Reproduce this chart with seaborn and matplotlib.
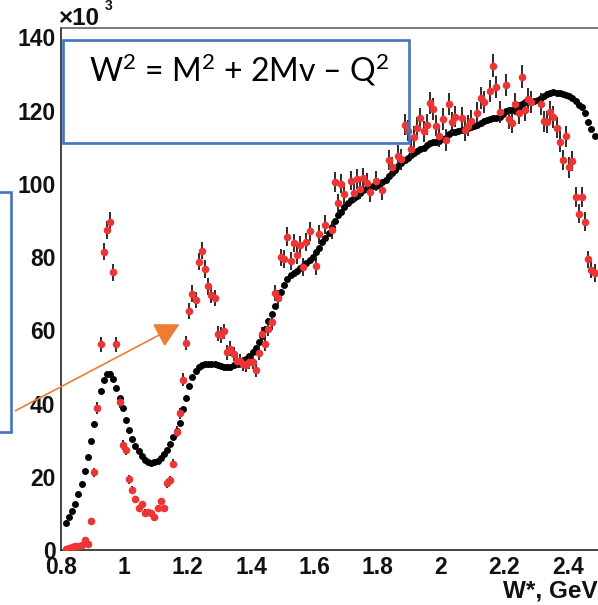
import numpy as np
import matplotlib
matplotlib.use("Agg")
import matplotlib.pyplot as plt
from matplotlib.patches import Rectangle, FancyArrowPatch
from matplotlib.ticker import MultipleLocator
import seaborn as sns

# ---- simulated yield (black), 10 MeV bins starting at W* = 0.81 GeV ----
sim_w_start = 0.81
sim_bin_width = 0.01
sim_yield = [
    7.4, 9.1, 10.6, 12.5, 15.2, 18.0, 21.6, 25.4, 29.8, 34.5,
    38.9, 43.4, 46.5, 48.2, 48.2, 46.7, 44.2, 41.4, 38.7, 35.5,
    32.7, 30.4, 28.4, 27.0, 25.6, 24.7, 24.1, 23.9, 24.0, 24.3,
    25.0, 26.1, 27.3, 28.9, 30.8, 32.6, 34.8, 38.5, 41.5, 44.8,
    47.3, 49.0, 49.9, 50.4, 50.7, 50.9, 50.9, 50.8, 50.5, 50.2,
    50.0, 49.9, 50.1, 50.5, 50.9, 51.2, 51.7, 52.3, 53.1, 54.0,
    55.2, 56.8, 58.4, 60.3, 62.5, 64.5, 66.6, 68.9, 70.6, 72.4,
    73.9, 75.0, 75.6, 76.3, 77.0, 77.6, 78.3, 79.2, 80.0, 81.3,
    82.5, 84.0, 85.3, 86.7, 88.3, 89.8, 91.5, 92.4, 93.6, 94.7,
    95.5, 96.2, 96.8, 97.6, 98.4, 98.9, 99.2, 99.3, 99.5, 99.8,
    100.4, 101.2, 102.1, 103.0, 103.9, 104.8, 105.6, 106.4, 107.1, 107.8,
    108.4, 108.9, 109.4, 109.8, 110.7, 111.2, 111.4, 111.4, 111.7, 112.2,
    112.6, 113.5, 114.2, 114.3, 114.5, 114.7, 115.1, 115.4, 115.6, 115.9,
    116.2, 116.6, 117.1, 117.5, 117.8, 117.9, 118.1, 118.4, 119.0, 119.8,
    120.3, 120.3, 120.2, 120.8, 121.8, 122.3, 122.4, 122.5, 122.6, 122.8,
    123.4, 124.0, 124.5, 124.8, 125.0, 124.9, 124.7, 124.6, 124.4, 124.1,
    123.4, 122.7, 121.6, 120.9, 119.5, 117.0, 115.0, 113.0,
]

# ---- measured yield (red) with statistical errors ----
data_w = [
    0.815, 0.825, 0.835, 0.845, 0.855, 0.865, 0.875, 0.885, 0.895, 0.905,
    0.915, 0.925, 0.935, 0.945, 0.955, 0.965, 0.975, 0.985, 0.995, 1.005,
    1.015, 1.025, 1.035, 1.045, 1.055, 1.065, 1.075, 1.085, 1.095, 1.105,
    1.115, 1.125, 1.135, 1.145, 1.155, 1.165, 1.175, 1.185, 1.195, 1.205,
    1.215, 1.225, 1.235, 1.245, 1.255, 1.265, 1.275, 1.285, 1.295, 1.305,
    1.315, 1.325, 1.335, 1.345, 1.355, 1.365, 1.375, 1.385, 1.395, 1.405,
    1.415, 1.425, 1.435, 1.445, 1.455, 1.465, 1.475, 1.485, 1.495, 1.505,
    1.515, 1.525, 1.535, 1.545, 1.555, 1.565, 1.575, 1.585, 1.605, 1.615,
    1.635, 1.655, 1.665, 1.675, 1.685, 1.695, 1.715, 1.725, 1.735, 1.745,
    1.755, 1.765, 1.775, 1.795, 1.815, 1.835, 1.845, 1.865, 1.875, 1.885,
    1.895, 1.905, 1.915, 1.925, 1.935, 1.945, 1.955, 1.965, 1.975, 1.985,
    1.995, 2.005, 2.015, 2.025, 2.035, 2.045, 2.065, 2.075, 2.085, 2.095,
    2.115, 2.125, 2.135, 2.155, 2.165, 2.175, 2.185, 2.205, 2.215, 2.225,
    2.235, 2.245, 2.255, 2.265, 2.275, 2.285, 2.315, 2.325, 2.335, 2.345,
    2.355, 2.365, 2.375, 2.385, 2.395, 2.405, 2.415, 2.425, 2.435, 2.445,
    2.455, 2.465, 2.475, 2.485,
]
data_yield = [
    0.4, 0.6, 0.8, 1.1, 1.1, 1.4, 2.8, 1.7, 7.9, 21.2,
    38.8, 56.2, 81.5, 87.5, 89.6, 75.9, 56.2, 40.5, 28.7, 27.4,
    19.3, 16.5, 13.8, 11.4, 12.5, 10.2, 10.3, 10.1, 9.1, 11.4,
    13.3, 11.4, 18.2, 19.1, 23.6, 32.3, 37.3, 46.5, 56.5, 65.3,
    70.0, 68.2, 78.8, 81.8, 76.7, 72.0, 69.7, 68.9, 59.1, 58.7,
    59.7, 54.0, 55.0, 53.5, 51.6, 51.6, 50.9, 50.5, 51.4, 51.4,
    49.2, 53.8, 58.9, 56.3, 60.5, 62.2, 70.2, 68.8, 79.9, 79.5,
    85.6, 78.9, 83.8, 80.5, 83.2, 77.3, 84.1, 87.0, 77.5, 86.2,
    88.9, 87.5, 100.6, 94.7, 100.1, 97.3, 100.9, 97.6, 101.3, 98.5,
    101.6, 100.2, 97.7, 100.8, 98.4, 106.5, 104.5, 107.7, 106.7, 116.2,
    114.5, 109.4, 112.9, 115.3, 117.9, 114.4, 116.2, 122.0, 120.5, 115.9,
    113.1, 117.7, 112.0, 121.8, 116.8, 118.4, 118.1, 114.6, 115.9, 117.3,
    119.5, 123.5, 122.3, 125.5, 132.3, 126.5, 119.6, 127.1, 117.8, 116.7,
    121.9, 119.3, 129.3, 120.3, 123.3, 122.4, 121.7, 117.1, 116.9, 119.6,
    118.3, 115.3, 111.5, 106.5, 113.0, 104.5, 106.2, 96.5, 91.8, 96.5,
    89.7, 79.4, 76.6, 75.7,
]
data_err = [
    0.3, 0.3, 0.3, 0.3, 0.3, 0.3, 0.5, 0.4, 0.8, 1.2,
    1.7, 2.0, 2.4, 2.5, 2.6, 2.3, 2.0, 1.7, 1.4, 1.4,
    1.2, 1.1, 1.0, 0.9, 1.0, 0.9, 0.9, 0.9, 0.8, 0.9,
    1.0, 0.9, 1.2, 1.2, 1.3, 1.5, 1.6, 1.8, 2.0, 2.2,
    2.3, 2.2, 2.4, 2.4, 2.4, 2.3, 2.3, 2.2, 2.1, 2.1,
    2.1, 2.0, 2.0, 2.0, 1.9, 1.9, 1.9, 1.9, 1.9, 1.9,
    1.9, 2.0, 2.1, 2.0, 2.1, 2.1, 2.3, 2.2, 2.4, 2.4,
    2.5, 2.4, 2.5, 2.4, 2.5, 2.4, 2.5, 2.5, 2.4, 2.5,
    2.6, 2.5, 2.7, 2.6, 2.7, 2.7, 2.7, 2.7, 2.7, 2.7,
    2.7, 2.7, 2.7, 2.7, 2.7, 2.8, 2.8, 2.8, 2.8, 2.9,
    2.9, 2.8, 2.9, 2.9, 2.9, 2.9, 2.9, 3.0, 3.0, 2.9,
    2.9, 2.9, 2.9, 3.0, 2.9, 2.9, 2.9, 2.9, 2.9, 2.9,
    3.0, 3.0, 3.0, 3.0, 3.1, 3.0, 3.0, 3.0, 2.9, 2.9,
    3.0, 3.0, 3.1, 3.0, 3.0, 3.0, 3.0, 2.9, 2.9, 3.0,
    2.9, 2.9, 2.9, 2.8, 2.9, 2.8, 2.8, 2.7, 2.6, 2.7,
    2.6, 2.4, 2.4, 2.4,
]

x_tick_labels = ["0.8", "1", "1.2", "1.4", "1.6", "1.8", "2", "2.2", "2.4"]
y_tick_labels = ["0", "20", "40", "60", "80", "100", "120", "140"]
x_axis_title = "W*, GeV"
y_multiplier = "\u00d710"
y_multiplier_exp = "3"
formula_text = "W$^{2}$ = M$^{2}$ + 2Mv \u2013 Q$^{2}$"

sim_w = sim_w_start + sim_bin_width / 2 + sim_bin_width * np.arange(len(sim_yield))

sns.set_style("white")
plt.rcParams["font.family"] = ["Liberation Sans", "DejaVu Sans"]
plt.rcParams["mathtext.fontset"] = "custom"
plt.rcParams["mathtext.rm"] = "Lato"
plt.rcParams["mathtext.it"] = "Lato"
plt.rcParams["mathtext.bf"] = "Lato:bold"

W_PX, H_PX = 598, 605
fig = plt.figure(figsize=(W_PX / 100, H_PX / 100), dpi=100)

def fx(px):
    return px / W_PX

def fy(py):
    return 1 - py / H_PX

ax = fig.add_axes([fx(61), fy(550), fx(538.4), 521.7 / H_PX])
ax.set_xlim(0.8, 2.5)
ax.set_ylim(0, 142.5)

sns.scatterplot(x=sim_w, y=sim_yield, color="black", s=25, linewidth=0,
                ax=ax, zorder=3, legend=False)
ax.errorbar(data_w, data_yield, yerr=data_err, fmt="none", ecolor="#1a1a1a",
            elinewidth=1.3, capsize=0, zorder=4)
sns.scatterplot(x=data_w, y=data_yield, color="#ee3535", s=30, linewidth=0,
                ax=ax, zorder=5, legend=False)

# axis ticks in the ROOT style: inward, minor every 0.05 / 5
ax.xaxis.set_minor_locator(MultipleLocator(0.05))
ax.yaxis.set_minor_locator(MultipleLocator(5))
ax.set_xticks(np.arange(len(x_tick_labels)) * 0.2 + 0.8)
ax.set_xticklabels(x_tick_labels)
ax.set_yticks(np.arange(len(y_tick_labels)) * 20)
ax.set_yticklabels(y_tick_labels)
ax.tick_params(which="both", direction="in", color="#222222", width=1.1,
               top=False, right=False)
ax.tick_params(which="major", length=11.5, labelsize=16.5)
ax.tick_params(which="minor", length=5.8)
ax.tick_params(axis="x", pad=4.5)
ax.tick_params(axis="y", pad=4)
for lab in ax.get_xticklabels() + ax.get_yticklabels():
    lab.set_fontweight("bold")
    lab.set_color("#111111")

for side in ["left", "bottom"]:
    ax.spines[side].set_color("#222222")
    ax.spines[side].set_linewidth(1.2)
ax.spines["top"].set_color("#555555")
ax.spines["top"].set_linewidth(1.1)
ax.spines["right"].set_visible(False)
ax.set_xlabel("")
ax.set_ylabel("")

fig.text(fx(598), fy(591), x_axis_title, ha="right", va="center",
         fontsize=17.5, fontweight="bold", color="#111111")
fig.text(fx(59), fy(25), y_multiplier, ha="left", va="baseline",
         fontsize=17.5, fontweight="bold", color="#111111")
fig.text(fx(105), fy(10), y_multiplier_exp, ha="left", va="baseline",
         fontsize=10, fontweight="bold", color="#111111")

# annotation overlays
blue = "#4472c4"
fig.add_artist(Rectangle((fx(63), fy(143)), fx(409 - 63), (143 - 40) / H_PX,
                         transform=fig.transFigure, fill=False,
                         edgecolor=blue, linewidth=1.9, zorder=10))
fig.add_artist(Rectangle((fx(-20), fy(432)), fx(31), (432 - 192) / H_PX,
                         transform=fig.transFigure, fill=False,
                         edgecolor=blue, linewidth=1.9, zorder=10))
fig.text(fx(239), fy(81), formula_text, ha="center", va="baseline",
         fontsize=23, family=["Lato", "DejaVu Sans"], color="black", zorder=11)
fig.add_artist(FancyArrowPatch((fx(13), fy(412)), (fx(182), fy(323)),
                               transform=fig.transFigure,
                               arrowstyle="-|>,head_length=0.75,head_width=0.4",
                               mutation_scale=20, color="#ed7d31",
                               linewidth=1.2, zorder=10))

fig.savefig("out.png", dpi=100)
